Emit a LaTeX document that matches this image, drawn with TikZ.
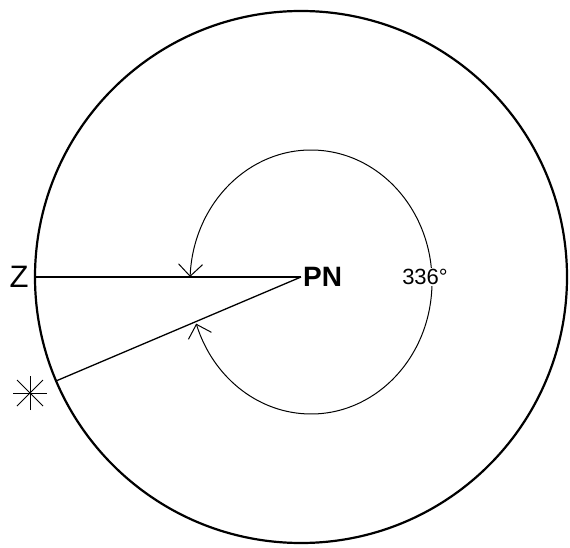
\documentclass[tikz,border=0pt]{standalone}
\usepackage{fontspec}
\setmainfont{Liberation Sans}
\usetikzlibrary{arrows.meta,bending}
\begin{document}
\begin{tikzpicture}[x=1pt,y=1pt,
  rim/.style={circle,draw,line width=2.2pt,minimum size=532pt,inner sep=0pt,outer sep=0pt},
  ray/.style={line width=1.3pt},
  anglearc/.style={line width=1pt,{Straight Barb[length=12pt,width=24pt]}-{Straight Barb[length=12pt,width=24pt]}},
  lbl/.style={inner sep=1pt}]
\useasboundingbox (0,0) rectangle (570,547);
\coordinate (c) at (301,270);
\node[rim] (big) at (c) {};
\coordinate (zend) at (big.180);
\coordinate (send) at (big.203.5);
\draw[ray] (zend) -- (c);
\draw[ray] (send) -- (c);
\node[lbl,font=\fontsize{31}{33}\selectfont] (z) at (19,270) {Z};
\node[lbl,anchor=west,font=\bfseries\fontsize{28}{30}\selectfont] (pn) at (302,270) {PN};
% angle arc
\draw[anglearc] (311,265) ++(177.8:121pt and 132pt) arc[start angle=177.8,end angle=-161.6,x radius=121pt,y radius=132pt];
\node[lbl,fill=white,font=\fontsize{22}{24}\selectfont] (ang) at (425,270) {336°};
% star
\coordinate (st) at (30,154);
\draw[line width=1pt] (st) ++(-17,0) -- ++(34,0);
\draw[line width=1pt] (st) ++(0,-17) -- ++(0,34);
\draw[line width=1pt] (st) ++(-13,-13) -- ++(26,26);
\draw[line width=1pt] (st) ++(-13,13) -- ++(26,-26);
\end{tikzpicture}
\end{document}
